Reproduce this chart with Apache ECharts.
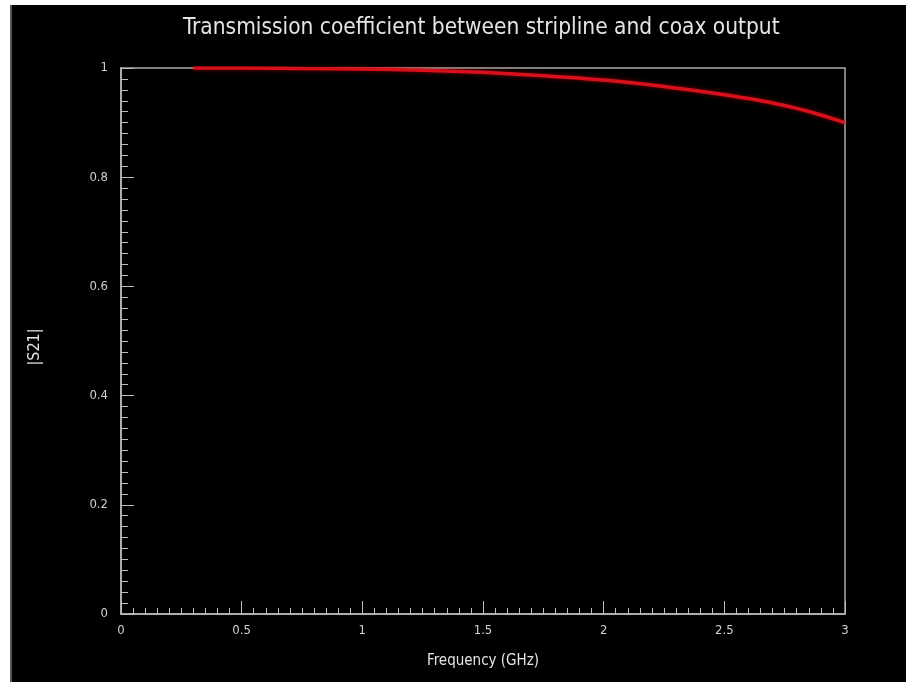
<!DOCTYPE html>
<html>
<head>
<meta charset="utf-8">
<script src="https://cdn.jsdelivr.net/npm/echarts@6/dist/echarts.min.js"></script>
<style>
html,body{margin:0;padding:0;background:#fff;width:906px;height:682px;overflow:hidden;}
#frame{position:absolute;left:10px;top:5px;width:896px;height:677px;background:#000;border-left:2px solid #556;box-sizing:border-box;}
#chart{position:absolute;left:0;top:0;width:894px;height:677px;}
</style>
</head>
<body>
<div id="frame"><div id="chart"></div></div>
<script>
var titleText = "Transmission coefficient between stripline and coax output";
var xName = "Frequency (GHz)";
var yName = "|S21|";
var freq = [0.3, 0.5, 0.75, 1.0, 1.25, 1.5, 1.75, 2.0, 2.25, 2.5, 2.6, 2.7, 2.8, 2.9, 3.0];
var s21  = [1.0, 1.0, 0.999, 0.998, 0.996, 0.992, 0.986, 0.978, 0.966, 0.951, 0.944, 0.936, 0.926, 0.914, 0.900];

var FONT = "'Liberation Sans Narrow', 'DejaVu Sans Condensed', 'Roboto', sans-serif";
var chart = echarts.init(document.getElementById('chart'), null, {renderer: 'canvas'});
chart.setOption({
  backgroundColor: '#000',
  animation: false,
  title: {
    text: titleText, left: 166, top: 7,
    textStyle: {color: '#e4e4e4', fontFamily: FONT, fontSize: 22.5, fontWeight: 'normal'}
  },
  grid: {left: 109, right: 61, top: 63, bottom: 68, show: true, borderColor: '#aaa', borderWidth: 1.5},
  xAxis: {
    type: 'value', min: 0, max: 3, interval: 0.5,
    name: xName, nameLocation: 'middle', nameGap: 40,
    nameTextStyle: {color: '#e4e4e4', fontFamily: FONT, fontSize: 15},
    axisLine: {show: true, lineStyle: {color: '#bbb', width: 1.5}},
    axisTick: {show: true, inside: true, length: 13, lineStyle: {color: '#bbb'}},
    minorTick: {show: true, splitNumber: 10, length: 6, lineStyle: {color: '#bbb'}},
    axisLabel: {color: '#d0d0d0', fontFamily: FONT, fontSize: 13, margin: 10},
    splitLine: {show: false}
  },
  yAxis: {
    type: 'value', min: 0, max: 1, interval: 0.2,
    name: yName, nameLocation: 'middle', nameGap: 78, nameRotate: 90,
    nameTextStyle: {color: '#e4e4e4', fontFamily: FONT, fontSize: 16, padding: [0, 0, 0, -12]},
    axisLine: {show: true, lineStyle: {color: '#bbb', width: 1.5}},
    axisTick: {show: true, inside: true, length: 13, lineStyle: {color: '#bbb'}},
    minorTick: {show: true, splitNumber: 10, length: 7, lineStyle: {color: '#bbb'}},
    axisLabel: {color: '#d0d0d0', fontFamily: FONT, fontSize: 13, margin: 13},
    splitLine: {show: false}
  },
  series: [{
    type: 'line',
    data: freq.map(function (f, i) { return [f, s21[i]]; }),
    smooth: 0.3,
    showSymbol: false,
    lineStyle: {color: '#d8101c', width: 3.5, shadowColor: 'rgba(255,0,0,0.5)', shadowBlur: 4}
  }]
});
</script>
</body>
</html>
